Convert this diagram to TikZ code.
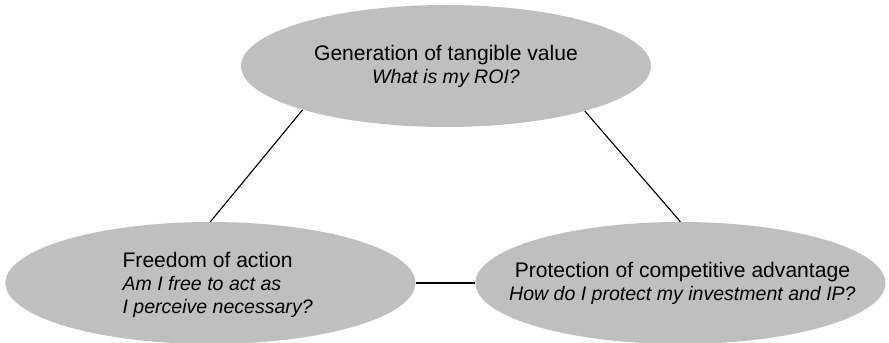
\documentclass[tikz,border=0pt]{standalone}
\usepackage{fontspec}
\setmainfont{Liberation Sans}
\usetikzlibrary{shapes.geometric, positioning}
\definecolor{bubble}{RGB}{191, 191, 191}
\newcommand{\question}[1]{{\fontsize{13.9}{16.5}\selectfont\itshape #1}}

\begin{document}
\begin{tikzpicture}[
    x=1cm, y=1cm,
    goal/.style={
        ellipse, fill=bubble, draw=none,
        minimum width=10.25cm, minimum height=3.05cm
    },
    goaltext/.style={
        font=\fontsize{15}{16.5}\selectfont, inner sep=0pt
    },
    link/.style={line width=0.8pt, black}
]

    \useasboundingbox (0,0) rectangle (22.225,8.575);

    \node[goal] (value)      at (11.15, 6.925) {};
    \node[goal] (freedom)    at (5.26, 1.5)    {};
    \node[goal] (protection) at (17.01, 1.5)   {};

    \node[goaltext, align=center] (valueText) at (value)
        {Generation of tangible value\\\question{What is my ROI?}};
    \node[goaltext, align=left, anchor=west] (freedomText)
        at ([xshift=2.93cm, yshift=-0.05cm]freedom.west)
        {Freedom of action\\\question{Am I free to act as}\\\question{I perceive necessary?}};
    \node[goaltext, align=center] (protectionText) at ([xshift=0.05cm]protection)
        {Protection of competitive advantage\\\question{How do I protect my investment and IP?}};

    \draw[link] (value.197) -- (freedom.north);
    \draw[link] (value.342) -- (protection.north);
    \draw[link] (freedom.east) -- (protection.west);
\end{tikzpicture}
\end{document}
